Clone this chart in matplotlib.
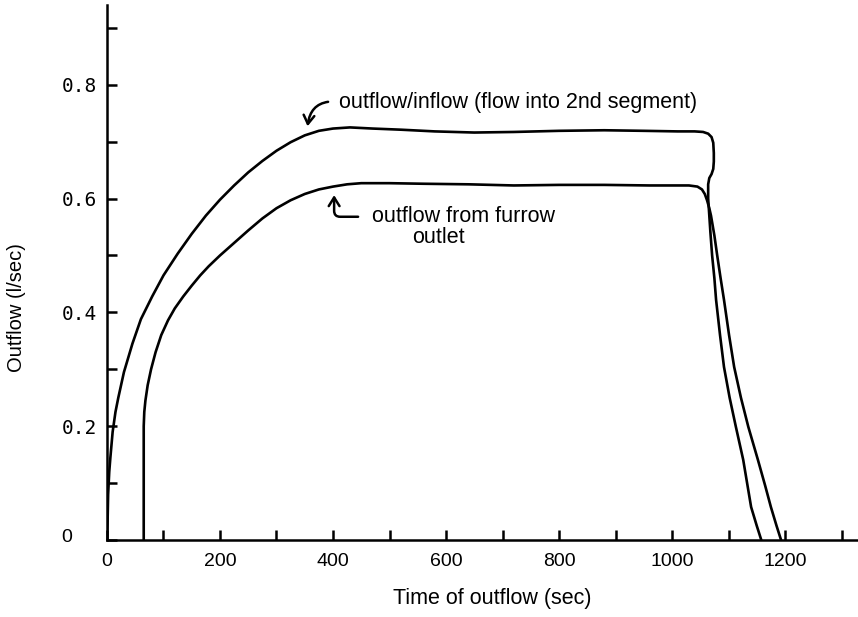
import matplotlib
matplotlib.use("Agg")
import matplotlib.pyplot as plt
from matplotlib.transforms import ScaledTranslation

# outflow/inflow (flow into 2nd segment)
t_in = [0, 1, 2, 4, 6, 10, 15, 20, 30, 45, 60, 80, 100, 125, 150, 175, 200,
        225, 250, 275, 300, 325, 350, 375, 400, 430, 470, 520, 580, 650, 720,
        800, 880, 950, 1010, 1040, 1055, 1064, 1070, 1073, 1074, 1074, 1073,
        1070, 1066, 1064, 1064, 1066, 1068, 1071, 1075, 1078, 1085, 1092,
        1102, 1113, 1126, 1140, 1150, 1158]
q_in = [0, 0.03, 0.08, 0.12, 0.145, 0.19, 0.225, 0.25, 0.295, 0.345, 0.388,
        0.428, 0.465, 0.503, 0.538, 0.570, 0.598, 0.623, 0.646, 0.666, 0.684,
        0.699, 0.711, 0.719, 0.723, 0.725, 0.723, 0.721, 0.718, 0.716, 0.717,
        0.719, 0.720, 0.719, 0.718, 0.718, 0.717, 0.714, 0.708, 0.698, 0.68,
        0.665, 0.652, 0.643, 0.636, 0.625, 0.6, 0.57, 0.54, 0.5, 0.46, 0.422,
        0.36, 0.304, 0.25, 0.199, 0.141, 0.058, 0.025, 0.0]

# outflow from furrow outlet
t_out = [65, 65, 65, 66, 68, 72, 78, 86, 96, 108, 120, 135, 150, 165, 180,
         200, 225, 250, 275, 300, 325, 350, 375, 400, 425, 450, 500, 560,
         640, 720, 800, 880, 960, 1010, 1030, 1045, 1053, 1058, 1062, 1066,
         1069, 1075, 1080, 1086, 1092, 1101, 1110, 1122, 1135, 1152, 1165,
         1175, 1185, 1193]
q_out = [0, 0.12, 0.2, 0.225, 0.245, 0.272, 0.30, 0.33, 0.36, 0.386, 0.407,
         0.428, 0.447, 0.465, 0.481, 0.50, 0.522, 0.544, 0.565, 0.583, 0.597,
         0.608, 0.616, 0.621, 0.625, 0.627, 0.627, 0.626, 0.625, 0.623,
         0.624, 0.624, 0.623, 0.623, 0.623, 0.621, 0.616, 0.608, 0.597,
         0.583, 0.57, 0.535, 0.50, 0.46, 0.422, 0.36, 0.304, 0.25, 0.199,
         0.141, 0.095, 0.058, 0.025, 0.0]

x_ticks = list(range(0, 1301, 100))
x_labels = ['0', '', '200', '', '400', '', '600', '', '800', '', '1000', '', '1200', '']
y_ticks = [0, 0.1, 0.2, 0.3, 0.4, 0.5, 0.6, 0.7, 0.8, 0.9]
y_labels = ['0', '', '0.2', '', '0.4', '', '0.6', '', '0.8', '']

fig = plt.figure(figsize=(8.58, 6.17), dpi=100)
ax = fig.add_axes([0.1247, 0.1248, 0.8765, 0.867])

line_kw = dict(color='black', lw=1.9, solid_joinstyle='round', solid_capstyle='round')
ax.plot(t_in, q_in, **line_kw)
ax.plot(t_out, q_out, **line_kw)

ax.set_xlim(0, 1331)
ax.set_ylim(0, 0.94)
for s in ['top', 'right']:
    ax.spines[s].set_visible(False)
for s in ['left', 'bottom']:
    ax.spines[s].set_linewidth(1.8)

ax.set_xticks(x_ticks, x_labels, fontfamily='Liberation Sans', fontsize=14)
ax.set_yticks(y_ticks, y_labels, fontfamily='DejaVu Sans Mono', fontsize=14)
ax.tick_params(direction='in', length=7, width=1.8)
ax.tick_params(axis='x', pad=9.5)
ax.tick_params(axis='y', pad=7)

# the "0" on the y axis is set in a different face, further left
zero = ax.yaxis.get_major_ticks()[0].label1
zero.set_fontfamily('Liberation Sans')
zero.set_transform(zero.get_transform() + ScaledTranslation(-0.25, 0.04, fig.dpi_scale_trans))

ax.set_xlabel('Time of outflow (sec)', fontfamily='Liberation Sans', fontsize=15.5)
ax.xaxis.set_label_coords(0.512, -0.09)
ax.set_ylabel('Outflow (l/sec)', fontfamily='Liberation Sans', fontsize=14.5)
ax.yaxis.set_label_coords(-0.108, 0.434)

txt_kw = dict(fontfamily='Liberation Sans', fontsize=15.5, ha='left', va='center')
ax.annotate('outflow/inflow (flow into 2nd segment)', xy=(355, 0.727), xytext=(411, 0.768),
            arrowprops=dict(arrowstyle='->,head_length=0.4,head_width=0.25', lw=1.8,
                            connectionstyle='arc3,rad=0.5', relpos=(0, 0.55),
                            shrinkA=6, shrinkB=0), **txt_kw)
ax.annotate('outflow from furrow', xy=(402, 0.606), xytext=(469, 0.568),
            arrowprops=dict(arrowstyle='->,head_length=0.4,head_width=0.25', lw=1.8,
                            connectionstyle='angle,angleA=0,angleB=90,rad=6', relpos=(0, 0.5),
                            shrinkA=8, shrinkB=0), **txt_kw)
ax.text(540, 0.531, 'outlet', **txt_kw)

fig.savefig('out.png', dpi=100)
